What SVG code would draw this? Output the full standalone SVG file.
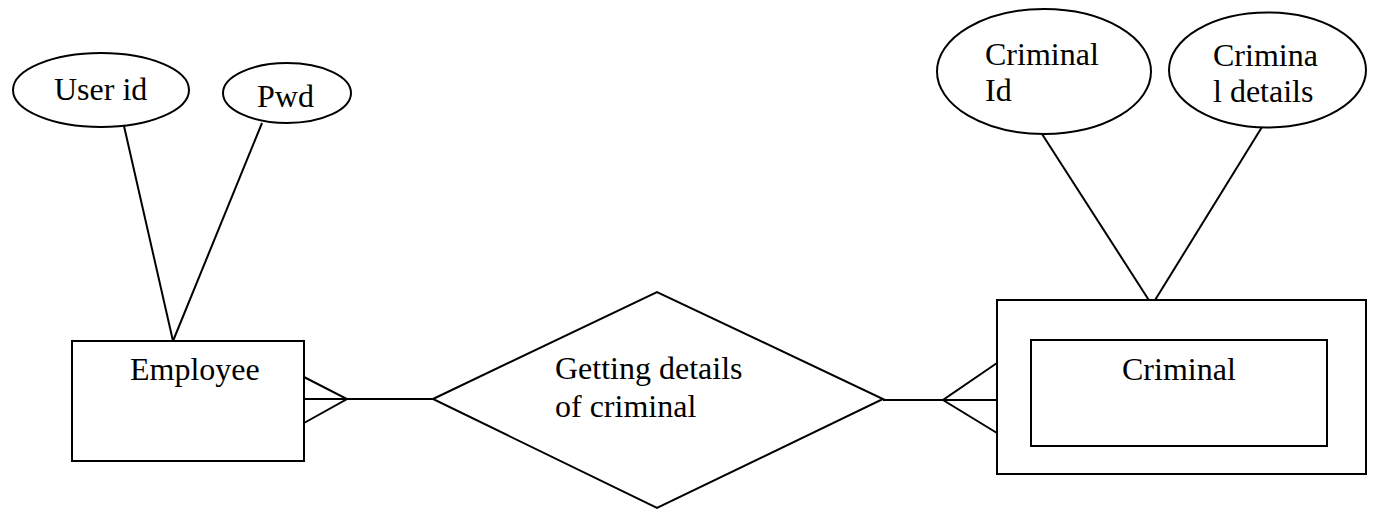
<svg xmlns="http://www.w3.org/2000/svg" width="1383" height="517" viewBox="0 0 1383 517">
  <style>
    .shape { fill: #ffffff; stroke: #000000; stroke-width: 2; }
    .line { fill: none; stroke: #000000; stroke-width: 2; }
    .label { font-family: "Liberation Serif", "Times New Roman", serif; font-size: 32px; fill: #000000; }
  </style>
  <rect width="1383" height="517" fill="#ffffff"/>

  <!-- connectors: attribute links, relationship links and crow's feet -->
  <g id="connectors">
    <line class="line" x1="124" y1="126" x2="173" y2="341"/>
    <line class="line" x1="262" y1="123" x2="173" y2="341"/>
    <line class="line" x1="1042" y1="134" x2="1152" y2="305"/>
    <line class="line" x1="1262" y1="127" x2="1152" y2="305"/>
    <polyline class="line" points="304,377 347,399 304,423"/>
    <line class="line" x1="304" y1="399" x2="433" y2="399"/>
    <polyline class="line" points="997,363 943,400 997,433"/>
    <line class="line" x1="883" y1="400" x2="997" y2="400"/>
  </g>

  <g id="attr-user-id">
    <ellipse class="shape" cx="101" cy="90" rx="88" ry="37"/>
    <text class="label" x="54" y="100">User id</text>
  </g>

  <g id="attr-pwd">
    <ellipse class="shape" cx="287" cy="93" rx="64" ry="30"/>
    <text class="label" x="257" y="107">Pwd</text>
  </g>

  <g id="attr-criminal-id">
    <ellipse class="shape" cx="1044" cy="71.5" rx="107" ry="62.5"/>
    <text class="label" x="985" y="65">Criminal</text>
    <text class="label" x="985" y="101">Id</text>
  </g>

  <g id="attr-criminal-details">
    <ellipse class="shape" cx="1267.5" cy="70" rx="98.5" ry="57.5"/>
    <text class="label" x="1213" y="66">Crimina</text>
    <text class="label" x="1213" y="102">l details</text>
  </g>

  <g id="entity-employee">
    <rect class="shape" x="72" y="341" width="232" height="120"/>
    <text class="label" x="130" y="380">Employee</text>
  </g>

  <g id="rel-getting-details">
    <polygon class="shape" points="433,399 657,292 883,399 657,508"/>
    <text class="label" x="555" y="379">Getting details</text>
    <text class="label" x="555" y="417">of criminal</text>
  </g>

  <g id="entity-criminal">
    <rect class="shape" x="997" y="300" width="369" height="174"/>
    <rect class="shape" x="1031" y="340" width="296" height="106"/>
    <text class="label" x="1122" y="380">Criminal</text>
  </g>
</svg>
